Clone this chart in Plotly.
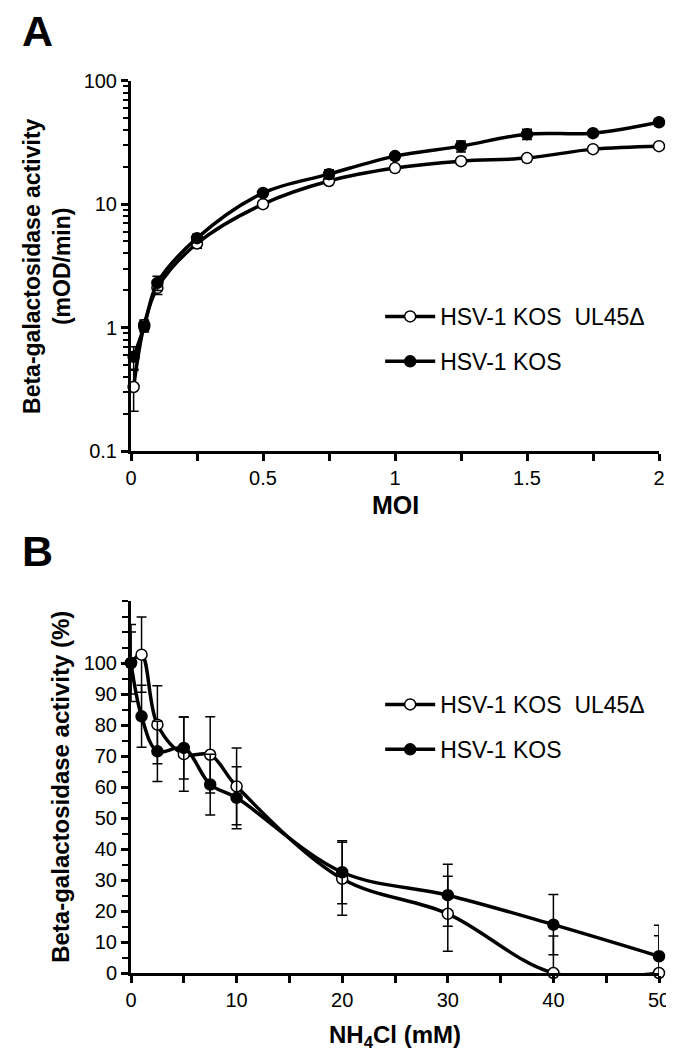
import plotly.graph_objects as go

# ---------------- Panel A data (MOI vs activity, log scale) ----------------
moi = [0.01, 0.05, 0.1, 0.25, 0.5, 0.75, 1.0, 1.25, 1.5, 1.75, 2.0]
a_ul45 = [0.33, 1.05, 2.1, 4.8, 10.0, 15.4, 19.6, 22.3, 23.6, 27.9, 29.5]
a_ul45_err = [0.12, 0.1, 0.25, 0.4, 0.6, 0.8, 1.2, 1.0, 1.5, 1.0, 1.0]
a_kos = [0.58, 1.02, 2.3, 5.3, 12.3, 17.5, 24.5, 29.5, 36.9, 37.6, 46.1]
a_kos_err = [0.12, 0.1, 0.3, 0.4, 0.6, 1.5, 1.5, 3.0, 3.5, 1.5, 3.0]

# ---------------- Panel B data (NH4Cl vs activity %) ----------------
nh4cl = [0, 1, 2.5, 5, 7.5, 10, 20, 30, 40, 50]
b_ul45 = [100, 102.7, 80.1, 70.6, 70.4, 60.2, 30.4, 19.1, 0, 0]
b_ul45_err_plus = [10, 12.1, 12.6, 12, 12.3, 12.4, 11.8, 12.1, 11.9, 12]
b_ul45_err_minus = [10, 12.1, 12.6, 12, 12.3, 12.4, 11.8, 12.1, 0, 0]
b_kos = [100, 82.8, 71.5, 72.6, 60.8, 56.5, 32.5, 25.1, 15.6, 5.4]
b_kos_err = [12.4, 10, 9.7, 10, 9.8, 10, 10.2, 10, 9.7, 10]

a_yticks = [0.1, 1, 10, 100]
a_yticklabels = ["0.1", "1", "10", "100"]
a_minor = [m * d for d in (0.1, 1, 10) for m in range(2, 10)]
a_xticks = [0, 0.5, 1, 1.5, 2]
a_xticklabels = ["0", "0.5", "1", "1.5", "2"]
b_xticks = [0, 10, 20, 30, 40, 50]
b_yticks = list(range(0, 101, 10))

FONT = "Liberation Sans, Arial, sans-serif"
W, H = 674, 1050
L, R, T, B = 123, 17, 70, 85
PW, PH = W - L - R, H - T - B


def px_x(p):
    return (p - L) / PW


def px_y(p):
    return (H - B - p) / PH


fig = go.Figure()

def add_series(x, y, err, errm, filled, name, xa, ya, leg, grp):
    fig.add_trace(go.Scatter(
        x=x, y=y, name=name, mode="lines+markers",
        xaxis=xa, yaxis=ya, legend=leg, legendgroup=grp,
        line=dict(color="black", width=3.5, shape="spline", smoothing=1.0),
        marker=dict(size=11, color="black" if filled else "white",
                    line=dict(color="black", width=1.5)),
        error_y=dict(type="data", array=err, arrayminus=errm, symmetric=False,
                     color="black", thickness=1.5, width=5),
        cliponaxis=False,
    ))

add_series(moi, a_ul45, a_ul45_err, a_ul45_err, False, "HSV-1 KOS  UL45\u0394", "x", "y", "legend", "a1")
add_series(moi, a_kos, a_kos_err, a_kos_err, True, "HSV-1 KOS", "x", "y", "legend", "a2")
add_series(nh4cl, b_ul45, b_ul45_err_plus, b_ul45_err_minus, False, "HSV-1 KOS  UL45\u0394", "x2", "y2", "legend2", "b1")
add_series(nh4cl, b_kos, b_kos_err, b_kos_err, True, "HSV-1 KOS", "x2", "y2", "legend2", "b2")

axis_common = dict(showline=True, linecolor="black", linewidth=3, ticks="outside",
                   tickcolor="black", tickwidth=2.5, ticklen=7, showgrid=False,
                   zeroline=False, tickfont=dict(family=FONT, size=20, color="black"))

ya_dom = [px_y(443), px_y(72.7)]
yb_dom = [0, px_y(593)]

legend_font = dict(family=FONT, size=23, color="black")

fig.update_layout(
    width=W, height=H, margin=dict(l=L, r=R, t=T, b=B),
    paper_bgcolor="white", plot_bgcolor="white",
    font=dict(family=FONT, color="black"),
    xaxis=dict(domain=[0, 1], anchor="y", range=[0, 2], tickvals=a_xticks, ticktext=a_xticklabels,
               minor=dict(dtick=0.25, ticks="outside", ticklen=7, tickwidth=2.5, tickcolor="black"),
               **axis_common),
    yaxis=dict(domain=ya_dom, anchor="x", type="log", range=[-1, 2], tickvals=a_yticks,
               ticktext=a_yticklabels,
               minor=dict(tickvals=a_minor, ticks="outside", ticklen=5, tickwidth=2, tickcolor="black"),
               **axis_common),
    xaxis2=dict(domain=[0, 1], anchor="y2", range=[0, 50], tickvals=b_xticks,
                minor=dict(dtick=5, ticks="outside", ticklen=7, tickwidth=2.5, tickcolor="black"),
                **axis_common),
    yaxis2=dict(domain=yb_dom, anchor="x2", range=[0, 120], tickvals=b_yticks,
                minor=dict(dtick=5, ticks="outside", ticklen=6, tickwidth=2, tickcolor="black"),
                **axis_common),
    legend=dict(x=px_x(375), y=px_y(287), xanchor="left", yanchor="top",
                font=legend_font, bgcolor="rgba(0,0,0,0)",
                itemwidth=50, tracegroupgap=12),
    legend2=dict(x=px_x(375), y=px_y(675), xanchor="left", yanchor="top",
                 font=legend_font, bgcolor="rgba(0,0,0,0)",
                 itemwidth=50, tracegroupgap=12),
    showlegend=True,
)

ann = [
    dict(text="<b>A</b>", x=px_x(28), y=px_y(23), font=dict(size=43)),
    dict(text="<b>B</b>", x=px_x(28), y=px_y(543), font=dict(size=43)),
    dict(text="<b>Beta-galactosidase activity<br>(mOD/min)</b>", x=px_x(38), y=px_y(258),
         textangle=-90, font=dict(size=23)),
    dict(text="<b>MOI</b>", x=px_x(390), y=px_y(497), font=dict(size=25)),
    dict(text="<b>Beta-galactosidase activity (%)</b>", x=px_x(51), y=px_y(779),
         textangle=-90, font=dict(size=24)),
    dict(text="<b>NH<sub>4</sub>Cl (mM)</b>", x=px_x(390), y=px_y(1028), font=dict(size=24)),
]
for a in ann:
    a.update(xref="paper", yref="paper", showarrow=False, xanchor="center", yanchor="middle")
    a["font"].update(family=FONT, color="black")
    fig.add_annotation(**a)

fig.write_html("out.html")
